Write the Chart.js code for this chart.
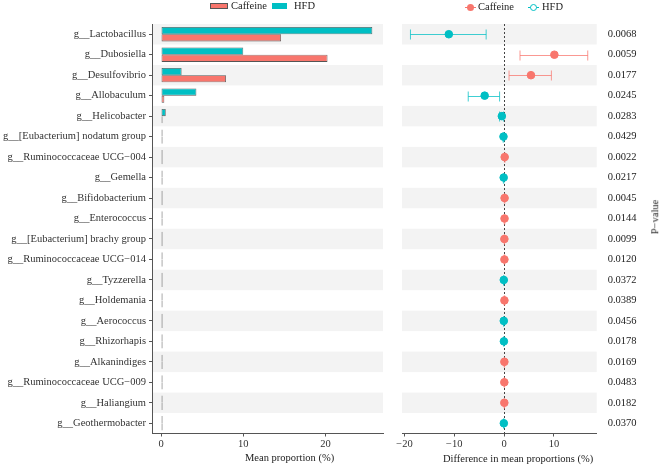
<!DOCTYPE html>
<html>
<head>
<meta charset="utf-8">
<script src="https://cdn.jsdelivr.net/npm/chart.js@4"></script>
<style>
  body { margin: 0; background: #fff; }
  #wrap { position: relative; width: 660px; height: 467px; font-family: "Liberation Serif", "Times New Roman", serif; font-size: 10.5px; color: #222; }
  canvas { position: absolute; top: 0; }
  .txt { position: absolute; white-space: nowrap; line-height: 12px; }
  .sw { position: absolute; box-sizing: border-box; border: 1px solid #555; }
  .ln { position: absolute; height: 1px; }
  .dot { position: absolute; width: 7px; height: 7px; border-radius: 50%; box-sizing: border-box; }
</style>
</head>
<body>
<div id="wrap">
  <canvas id="meanChart" width="390" height="467" style="left:0"></canvas>
  <canvas id="diffChart" width="270" height="467" style="left:390px"></canvas>

  <div class="sw" style="left:210px;top:3px;width:18px;height:6px;background:#F8766D"></div>
  <div class="txt" style="left:231px;top:0px">Caffeine</div>
  <div class="sw" style="left:272px;top:3px;width:15px;height:6px;background:#00BFC4;border-color:#00BFC4"></div>
  <div class="txt" style="left:294px;top:0px">HFD</div>

  <div class="ln" style="left:465px;top:7px;width:11px;background:#F8766D"></div>
  <div class="dot" style="left:467px;top:4px;background:#F8766D"></div>
  <div class="txt" style="left:478px;top:1px">Caffeine</div>
  <div class="ln" style="left:528px;top:7px;width:11px;background:#00BFC4"></div>
  <div class="dot" style="left:530px;top:4px;border:1px solid #00BFC4;background:#fff"></div>
  <div class="txt" style="left:542px;top:1px">HFD</div>

  <div class="txt" style="left:245px;top:452px">Mean proportion (%)</div>
  <div class="txt" style="left:443px;top:453px">Difference in mean proportions (%)</div>
  <div class="txt" style="left:638px;top:211px;transform:rotate(-90deg);transform-origin:center">P−value</div>
</div>

<script>
const genera = [
  'g__Lactobacillus', 'g__Dubosiella', 'g__Desulfovibrio', 'g__Allobaculum', 'g__Helicobacter',
  'g__[Eubacterium] nodatum group', 'g__Ruminococcaceae UCG−004', 'g__Gemella', 'g__Bifidobacterium',
  'g__Enterococcus', 'g__[Eubacterium] brachy group', 'g__Ruminococcaceae UCG−014', 'g__Tyzzerella',
  'g__Holdemania', 'g__Aerococcus', 'g__Rhizorhapis', 'g__Alkanindiges', 'g__Ruminococcaceae UCG−009',
  'g__Haliangium', 'g__Geothermobacter'
];

const hfdMean = [25.7, 10.0, 2.5, 4.3, 0.57, 0.15, 0.03, 0.1, 0.02, 0.03, 0.04, 0.03, 0.08, 0.03, 0.08, 0.05, 0.02, 0.03, 0.02, 0.06];
const caffeineMean = [14.6, 20.25, 7.9, 0.4, 0.08, 0.03, 0.15, 0.02, 0.12, 0.12, 0.1, 0.1, 0.02, 0.1, 0.02, 0.01, 0.08, 0.08, 0.07, 0.01];

const diffMean = [-11.1, 10.1, 5.4, -3.9, -0.45, -0.12, 0.12, -0.08, 0.1, 0.09, 0.06, 0.07, -0.06, 0.07, -0.06, -0.04, 0.06, 0.05, 0.05, -0.05];
const diffLow = [-18.8, 3.2, 1.0, -7.2, -0.9, -0.2, 0.05, -0.15, 0.03, 0.03, 0.02, 0.02, -0.12, 0.02, -0.12, -0.08, 0.02, 0.01, 0.01, -0.1];
const diffHigh = [-3.6, 16.8, 9.5, -0.9, -0.1, -0.04, 0.2, -0.02, 0.17, 0.15, 0.1, 0.12, -0.01, 0.12, -0.01, -0.01, 0.1, 0.09, 0.09, -0.01];
const enrichedIn = ['HFD', 'Caffeine', 'Caffeine', 'HFD', 'HFD', 'HFD', 'Caffeine', 'HFD', 'Caffeine', 'Caffeine',
  'Caffeine', 'Caffeine', 'HFD', 'Caffeine', 'HFD', 'HFD', 'Caffeine', 'Caffeine', 'Caffeine', 'HFD'];

const pValues = ['0.0068', '0.0059', '0.0177', '0.0245', '0.0283', '0.0429', '0.0022', '0.0217', '0.0045', '0.0144',
  '0.0099', '0.0120', '0.0372', '0.0389', '0.0456', '0.0178', '0.0169', '0.0483', '0.0182', '0.0370'];

const meanTicks = [0, 10, 20];
const diffTicks = [-20, -10, 0, 10];

const groupColors = { Caffeine: '#F8766D', HFD: '#00BFC4' };
const barColors = { Caffeine: 'rgba(248,118,109,0.75)', HFD: 'rgba(0,191,196,0.75)' };

Chart.defaults.font.family = '"Liberation Serif", "Times New Roman", serif';
Chart.defaults.font.size = 10.5;
Chart.defaults.color = '#333';

// grey band behind every other row
const stripes = {
  id: 'stripes',
  beforeDraw(chart) {
    const { ctx, chartArea } = chart;
    const y = chart.scales.y;
    const rowH = Math.abs(y.getPixelForValue(1) - y.getPixelForValue(0));
    ctx.save();
    ctx.fillStyle = '#F3F3F3';
    genera.forEach((g, i) => {
      if (i % 2) return;
      const yc = y.getPixelForValue(i);
      ctx.fillRect(chartArea.left, yc - rowH / 2, chartArea.right - chartArea.left, rowH);
    });
    ctx.restore();
  }
};

const errorBars = {
  id: 'errorBars',
  beforeDatasetsDraw(chart) {
    const { ctx, chartArea } = chart;
    const x = chart.scales.x, y = chart.scales.y;
    ctx.save();
    // dashed zero line
    ctx.strokeStyle = '#444';
    ctx.lineWidth = 1;
    ctx.setLineDash([2, 2]);
    const x0 = Math.round(x.getPixelForValue(0)) + 0.5;
    ctx.beginPath();
    ctx.moveTo(x0, chartArea.top);
    ctx.lineTo(x0, chartArea.bottom);
    ctx.stroke();
    ctx.setLineDash([]);
    genera.forEach((g, i) => {
      const yc = Math.round(y.getPixelForValue(i)) + 0.5;
      const xl = x.getPixelForValue(diffLow[i]);
      const xh = x.getPixelForValue(diffHigh[i]);
      ctx.strokeStyle = barColors[enrichedIn[i]];
      ctx.beginPath();
      ctx.moveTo(xl, yc); ctx.lineTo(xh, yc);
      ctx.moveTo(xl, yc - 5); ctx.lineTo(xl, yc + 5);
      ctx.moveTo(xh, yc - 5); ctx.lineTo(xh, yc + 5);
      ctx.stroke();
    });
    ctx.restore();
  }
};

new Chart(document.getElementById('meanChart'), {
  type: 'bar',
  data: {
    labels: genera,
    datasets: [
      { label: 'HFD', data: hfdMean, backgroundColor: groupColors.HFD, borderColor: '#555', borderWidth: 0.8,
        borderSkipped: false, minBarLength: 1.5, categoryPercentage: 0.7, barPercentage: 1.0 },
      { label: 'Caffeine', data: caffeineMean, backgroundColor: groupColors.Caffeine, borderColor: '#555', borderWidth: 0.8,
        borderSkipped: false, minBarLength: 1.5, categoryPercentage: 0.7, barPercentage: 1.0 }
    ]
  },
  options: {
    indexAxis: 'y',
    responsive: false,
    animation: false,
    layout: { padding: { top: 24, right: 7, left: 0, bottom: 0 } },
    plugins: { legend: { display: false }, tooltip: { enabled: false } },
    scales: {
      x: {
        min: -1.1, max: 27,
        afterBuildTicks: s => { s.ticks = meanTicks.map(v => ({ value: v })); },
        afterFit: s => { s.height = 33.5; },
        grid: { drawOnChartArea: false, tickLength: 3, color: '#555' },
        border: { color: '#555' },
        ticks: { padding: 1, color: '#333' }
      },
      y: {
        afterFit: s => { s.width = 152; },
        grid: { drawOnChartArea: false, tickLength: 3, color: '#555', offset: false },
        border: { color: '#555' },
        ticks: { padding: 3, autoSkip: false, color: '#333' }
      }
    }
  },
  plugins: [stripes]
});

const pointsFor = grp => genera
  .map((g, i) => ({ x: diffMean[i], y: g, grp: enrichedIn[i] }))
  .filter(p => p.grp === grp);

new Chart(document.getElementById('diffChart'), {
  type: 'scatter',
  data: {
    datasets: [
      { label: 'Caffeine', data: pointsFor('Caffeine'), backgroundColor: groupColors.Caffeine, borderColor: groupColors.Caffeine, pointRadius: 3.8 },
      { label: 'HFD', data: pointsFor('HFD'), backgroundColor: groupColors.HFD, borderColor: groupColors.HFD, pointRadius: 3.8 }
    ]
  },
  options: {
    responsive: false,
    animation: false,
    layout: { padding: { top: 24, right: 0, left: 12, bottom: 0 } },
    plugins: { legend: { display: false }, tooltip: { enabled: false } },
    scales: {
      x: {
        type: 'linear',
        min: -20.5, max: 18.6,
        afterBuildTicks: s => { s.ticks = diffTicks.map(v => ({ value: v })); },
        afterFit: s => { s.height = 33.5; },
        grid: { drawOnChartArea: false, tickLength: 3, color: '#555' },
        border: { color: '#555' },
        ticks: { padding: 1, color: '#333', callback: v => String(v).replace('-', '−') }
      },
      y: {
        type: 'category',
        labels: genera,
        offset: true,
        display: false
      },
      y2: {
        type: 'category',
        labels: pValues,
        position: 'right',
        offset: true,
        afterFit: s => { s.width = 63.3; },
        grid: { display: false, drawTicks: false },
        border: { display: false },
        ticks: { padding: 11, autoSkip: false, color: '#222' }
      }
    }
  },
  plugins: [stripes, errorBars]
});
</script>
</body>
</html>
